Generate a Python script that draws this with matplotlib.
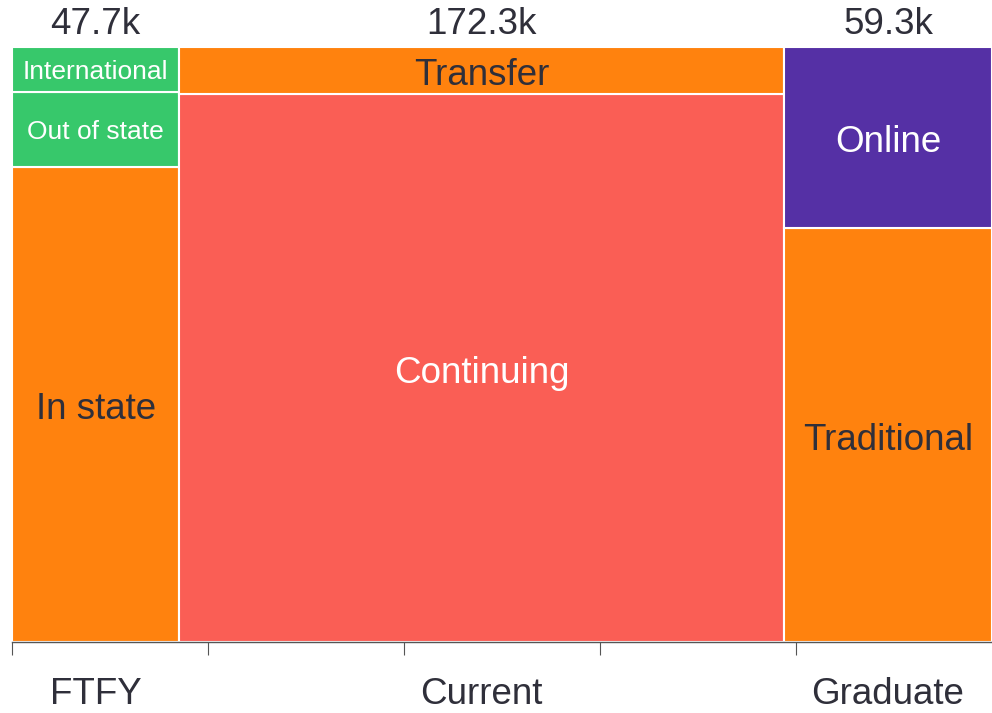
import matplotlib.pyplot as plt
import numpy as np

plt.rcParams['font.family'] = ['Liberation Sans', 'DejaVu Sans']

# groupes (total en milliers) et segments (part en %, du bas vers le haut)
groupes = ['FTFY', 'Current', 'Graduate']
totaux = [47.7, 172.3, 59.3]
segments = [
    ['In state', 'Out of state', 'International'],
    ['Continuing', 'Transfer'],
    ['Traditional', 'Online'],
]
parts = [
    [79.8, 12.6, 7.6],
    [92.1, 7.9],
    [69.6, 30.4],
]
couleurs = [
    ['#FF820E', '#37C86B', '#37C86B'],
    ['#FA5E55', '#FF820E'],
    ['#FF820E', '#5530A5'],
]
couleurs_texte = [
    ['#2F2F3A', 'white', 'white'],
    ['white', '#2F2F3A'],
    ['#2F2F3A', 'white'],
]
tailles_texte = [
    [26.5, 19, 19],
    [26.5, 26.5],
    [26.5, 26.5],
]

fig = plt.figure(figsize=(9.92, 7.13), dpi=100)
ax = fig.add_axes([12 / 992, 71 / 713, 980 / 992, 595 / 713])

largeurs = np.array(totaux) / sum(totaux)
gauches = np.concatenate([[0], np.cumsum(largeurs)[:-1]])

for i in range(len(groupes)):
    bas = 0
    for nom, p, c, ct, ts in zip(segments[i], parts[i], couleurs[i], couleurs_texte[i], tailles_texte[i]):
        h = p / 100
        ax.bar(gauches[i], h, width=largeurs[i], bottom=bas, align='edge',
               color=c, edgecolor='white', linewidth=1.5)
        decal = 0.009 if ts > 20 else 0.004
        ax.text(gauches[i] + largeurs[i] / 2, bas + h / 2 - decal, nom, ha='center', va='center',
                color=ct, fontsize=ts)
        bas += h
    # total au-dessus
    ax.text(gauches[i] + largeurs[i] / 2, 1.037, f'{totaux[i]}k', ha='center', va='center',
            color='#2F2F3A', fontsize=26.5, clip_on=False)
    # nom du groupe en dessous
    ax.text(gauches[i] + largeurs[i] / 2, -0.089, groupes[i], ha='center', va='center',
            color='#2F2F3A', fontsize=26.5, clip_on=False)

ax.set_xlim(0, 1)
ax.set_ylim(0, 1)
ax.set_xticks([0, 0.2, 0.4, 0.6, 0.8])
ax.set_xticklabels([])
ax.set_yticks([])
ax.tick_params(axis='x', length=9, width=0.8, color='#555555')
for s in ['top', 'right', 'left']:
    ax.spines[s].set_visible(False)
ax.spines['bottom'].set_color('#555555')
ax.spines['bottom'].set_linewidth(1)

fig.savefig('out.png', dpi=100)
